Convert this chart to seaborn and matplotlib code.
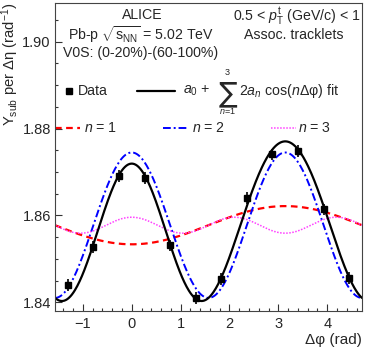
import numpy as np
import pandas as pd
import matplotlib
matplotlib.use("Agg")
import matplotlib.pyplot as plt
import seaborn as sns

# Data points (Delta phi bin centres and per-trigger yields)
dphi = [-1.309, -0.785, -0.262, 0.262, 0.785, 1.309,
        1.833, 2.356, 2.880, 3.403, 3.927, 4.451]
yield_sub = [1.8440, 1.8527, 1.8691, 1.8686, 1.8531, 1.8410,
             1.8454, 1.8640, 1.8741, 1.8748, 1.8614, 1.8456]
yield_err = [0.0013] * 12

# Fourier fit coefficients
a0 = 1.85775
a_n = {1: -0.0022, 2: 0.00837, 3: 0.00092}

sns.set_style("ticks")
plt.rcParams['font.family'] = ['Liberation Sans', 'DejaVu Sans']
plt.rcParams['mathtext.fontset'] = 'custom'
plt.rcParams['mathtext.rm'] = 'Liberation Sans'
plt.rcParams['mathtext.it'] = 'Liberation Sans:italic'
plt.rcParams['mathtext.bf'] = 'Liberation Sans:bold'

fig = plt.figure(figsize=(3.66, 3.52), dpi=100)
ax = fig.add_axes([55 / 366, 41 / 352, 307 / 366, 308 / 352])

# fit curves
x = np.linspace(-np.pi / 2, 3 * np.pi / 2, 400)
total = a0 + sum(2 * a * np.cos(n * x) for n, a in a_n.items())
curves = pd.DataFrame({"x": x, "total": total})
for n, a in a_n.items():
    curves[f"n{n}"] = a0 + 2 * a * np.cos(n * x)

sns.lineplot(data=curves, x="x", y="n1", ax=ax, color="red", lw=1.6,
             linestyle=(0, (3, 2)))
sns.lineplot(data=curves, x="x", y="n2", ax=ax, color="blue", lw=1.4,
             linestyle=(0, (4, 1.5, 1, 1.5)))
sns.lineplot(data=curves, x="x", y="n3", ax=ax, color="#ff40ff", lw=1.1,
             linestyle=(0, (1, 1)))
sns.lineplot(data=curves, x="x", y="total", ax=ax, color="black", lw=1.6)

ax.errorbar(dphi, yield_sub, yerr=yield_err, fmt="s", color="black",
            ms=4.2, elinewidth=1.2, capsize=0)

ax.set_xlim(-np.pi / 2, 3 * np.pi / 2)
ax.set_ylim(1.838, 1.9089)
ax.set_xticks([-1, 0, 1, 2, 3, 4])
ax.set_xticks(np.arange(-1.4, 4.75, 0.2), minor=True)
ax.set_yticks([1.84, 1.86, 1.88, 1.90])
ax.set_yticklabels(["1.84", "1.86", "1.88", "1.90"])
ax.set_yticks(np.arange(1.84, 1.909, 0.005), minor=True)
ax.tick_params(which="both", direction="in", labelsize=10.5, color="#333333")
ax.tick_params(which="major", length=5, width=0.8)
ax.tick_params(which="minor", length=2.5, width=0.8)
ax.tick_params(axis="x", pad=4)
ax.tick_params(axis="y", pad=3)
for s in ax.spines.values():
    s.set_color("#444444")
    s.set_linewidth(0.8)

ax.set_xlabel("Δφ (rad)", fontsize=11, loc="right", labelpad=2)
ax.set_ylabel(r"Y$_{\rm sub}$ per Δη (rad$^{-1}$)", fontsize=10.6, loc="top",
              labelpad=1)

t = ax.transAxes
fs = 10.2
ax.text(0.283, 0.961, "ALICE", transform=t, ha="center", va="center", fontsize=fs)
ax.text(0.042, 0.896, r"Pb-p $\sqrt{\mathrm{s}_{\mathrm{NN}}}$ = 5.02 TeV",
        transform=t, ha="left", va="center", fontsize=fs)
ax.text(0.026, 0.838, "V0S: (0-20%)-(60-100%)", transform=t, ha="left",
        va="center", fontsize=fs)
ax.text(0.995, 0.958, r"0.5 < $p_{\mathrm{T}}^{\mathrm{t}}$ (GeV/c) < 1",
        transform=t, ha="right", va="center", fontsize=fs)
ax.text(0.779, 0.896, "Assoc. tracklets", transform=t, ha="center",
        va="center", fontsize=fs)

# legend, drawn by hand to follow the original layout
ax.plot([0.046], [0.715], "s", color="black", ms=4.2, transform=t)
ax.text(0.075, 0.715, "Data", transform=t, ha="left", va="center", fontsize=fs)
ax.plot([0.267, 0.391], [0.715, 0.715], color="black", lw=1.6, transform=t)
ax.text(0.417, 0.715, r"$a_0$ +", transform=t, ha="left", va="center",
        fontsize=fs)
ax.text(0.562, 0.708, "∑", transform=t, ha="center", va="center",
        fontsize=20, family="DejaVu Sans")
ax.text(0.562, 0.775, "3", transform=t, ha="center", va="center", fontsize=6.5)
ax.text(0.562, 0.648, r"$n$=1", transform=t, ha="center", va="center",
        fontsize=6.5)
ax.text(0.600, 0.715, r"2$a_n$ cos($n$Δφ) fit", transform=t, ha="left",
        va="center", fontsize=fs)
ax.plot([0.0, 0.081], [0.594, 0.594], color="red", lw=1.6,
        linestyle=(0, (3, 2)), transform=t, clip_on=False)
ax.text(0.094, 0.594, r"$n$ = 1", transform=t, ha="left", va="center", fontsize=fs)
ax.plot([0.352, 0.433], [0.594, 0.594], color="blue", lw=1.4,
        linestyle=(0, (4, 1.5, 1, 1.5)), transform=t)
ax.text(0.446, 0.594, r"$n$ = 2", transform=t, ha="left", va="center", fontsize=fs)
ax.plot([0.704, 0.785], [0.594, 0.594], color="#ff40ff", lw=1.1,
        linestyle=(0, (1, 1)), transform=t)
ax.text(0.792, 0.594, r"$n$ = 3", transform=t, ha="left", va="center", fontsize=fs)

fig.savefig("out.png", dpi=100)
